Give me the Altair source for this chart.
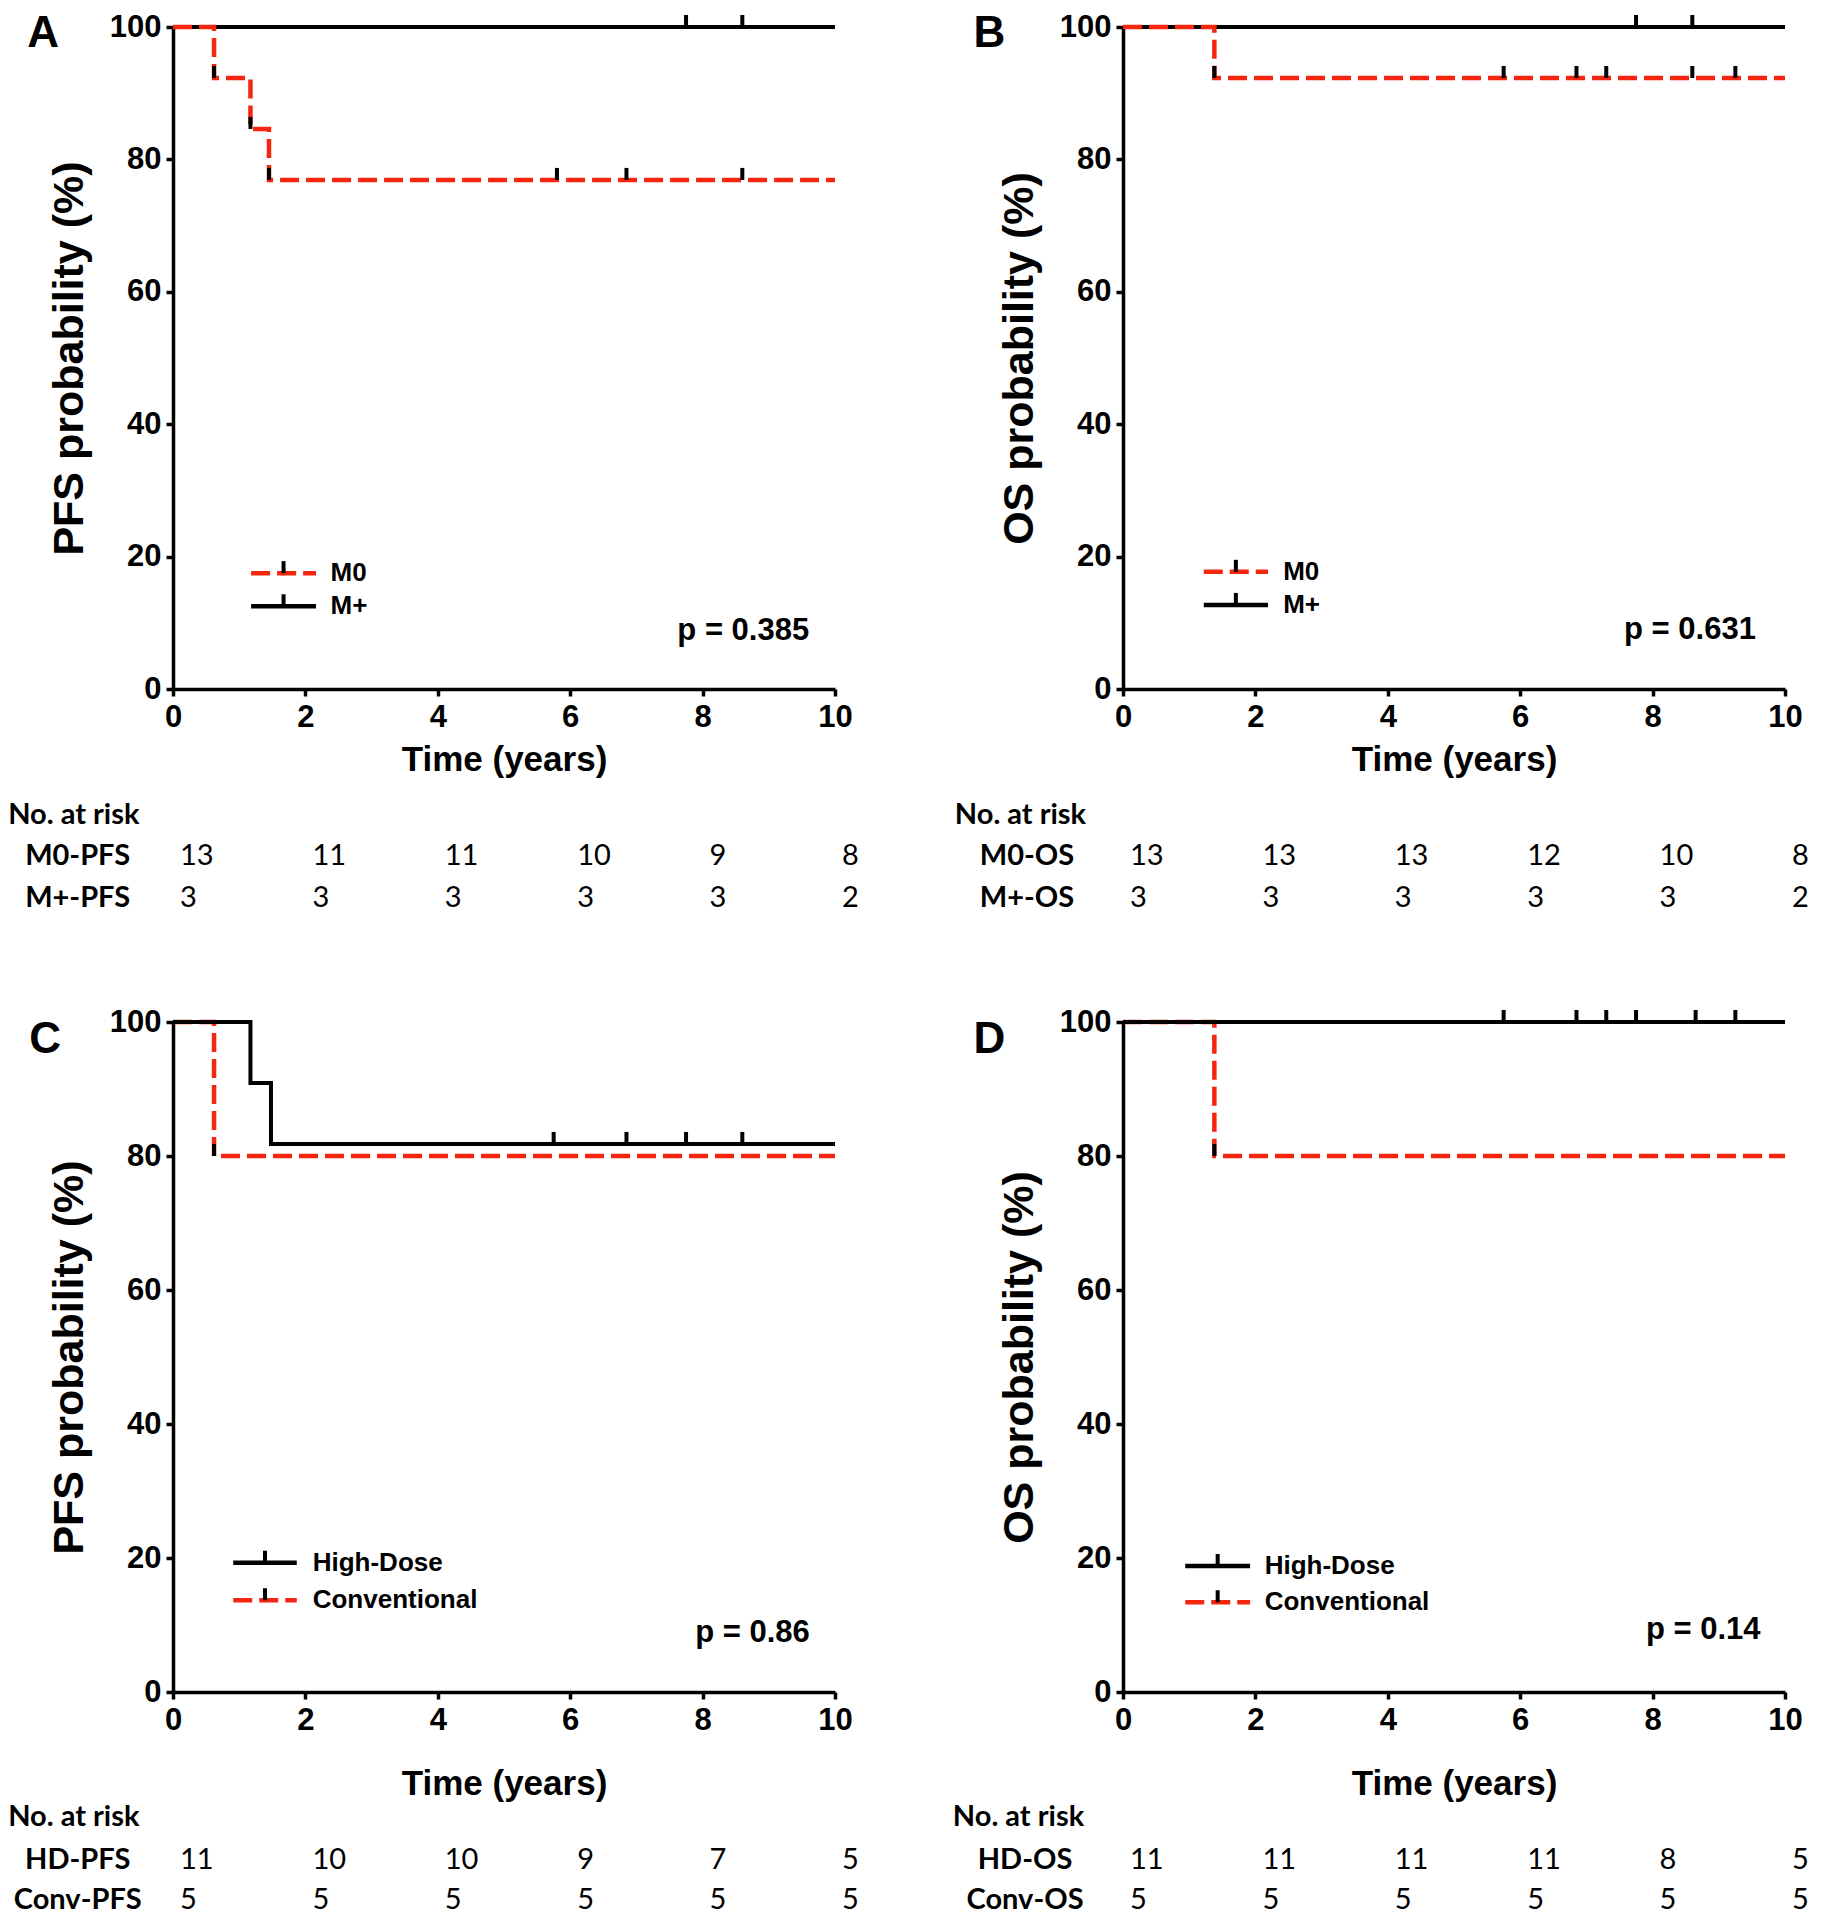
import altair as alt
import pandas as pd

RED = "#f5260f"
BLACK = "#000000"
FONT = "Liberation Sans"
TFONT = "Lato"
DASH = [19, 7]

risk_times = [0, 2, 4, 6, 8, 10]
x_ticks = [0, 2, 4, 6, 8, 10]
y_ticks = [0, 20, 40, 60, 80, 100]

# ---- Panel A : PFS by M stage ----
A_red_t = [0, 0.62, 1.17, 1.45, 10]
A_red_s = [100, 92.3, 84.6, 76.9, 76.9]
A_blk_t = [0, 10]
A_blk_s = [100, 100]
A_red_cens = [5.8, 6.85, 8.6]
A_blk_cens = [7.75, 8.6]
A_risk_labels = ["M0-PFS", "M+-PFS"]
A_risk_rows = [[13, 11, 11, 10, 9, 8], [3, 3, 3, 3, 3, 2]]

# ---- Panel B : OS by M stage ----
B_red_t = [0, 1.38, 10]
B_red_s = [100, 92.3, 92.3]
B_blk_t = [0, 10]
B_blk_s = [100, 100]
B_red_cens = [5.75, 6.85, 7.3, 8.6, 9.25]
B_blk_cens = [7.75, 8.6]
B_risk_labels = ["M0-OS", "M+-OS"]
B_risk_rows = [[13, 13, 13, 12, 10, 8], [3, 3, 3, 3, 3, 2]]

# ---- Panel C : PFS by dose ----
C_red_t = [0, 0.62, 10]
C_red_s = [100, 80, 80]
C_blk_t = [0, 1.17, 1.48, 10]
C_blk_s = [100, 90.9, 81.8, 81.8]
C_red_cens = []
C_blk_cens = [5.75, 6.85, 7.75, 8.6]
C_risk_labels = ["HD-PFS", "Conv-PFS"]
C_risk_rows = [[11, 10, 10, 9, 7, 5], [5, 5, 5, 5, 5, 5]]

# ---- Panel D : OS by dose ----
D_red_t = [0, 1.38, 10]
D_red_s = [100, 80, 80]
D_blk_t = [0, 10]
D_blk_s = [100, 100]
D_red_cens = []
D_blk_cens = [5.75, 6.85, 7.3, 7.75, 8.65, 9.25]
D_risk_labels = ["HD-OS", "Conv-OS"]
D_risk_rows = [[11, 11, 11, 11, 8, 5], [5, 5, 5, 5, 5, 5]]


def step_at(ts, ss, t):
    v = ss[0]
    for ti, si in zip(ts, ss):
        if ti <= t:
            v = si
    return v


xs = alt.Scale(domain=[0, 10], nice=False, zero=False)


def panel(cfg):
    W, H = cfg["w"], cfg["h"]
    xaxis = alt.Axis(values=x_ticks, title="Time (years)", titlePadding=cfg["tpad"],
                     labelFlush=False, format="d")
    yaxis = alt.Axis(values=y_ticks, title=cfg["ytitle"], labelFlush=False, format="d")
    ys = alt.Scale(domain=[0, 100], nice=False, zero=False)
    X = alt.X("x:Q", scale=xs, axis=xaxis)
    Y = alt.Y("y:Q", scale=ys, axis=yaxis)

    red_df = pd.DataFrame({"x": cfg["red_t"], "y": cfg["red_s"]})
    blk_df = pd.DataFrame({"x": cfg["blk_t"], "y": cfg["blk_s"]})
    red_line = alt.Chart(red_df).mark_line(interpolate="step-after", color=RED,
                                           strokeWidth=4.5, strokeDash=DASH).encode(x=X, y=Y)
    blk_line = alt.Chart(blk_df).mark_line(interpolate="step-after", color=BLACK,
                                           strokeWidth=4).encode(x=X, y=Y)

    # censor marks (and event marks on the red curve, drawn black as in the figure)
    cx, cy = [], []
    for t in cfg["blk_cens"]:
        cx.append(t); cy.append(step_at(cfg["blk_t"], cfg["blk_s"], t))
    for t in cfg["red_cens"]:
        cx.append(t); cy.append(step_at(cfg["red_t"], cfg["red_s"], t))
    for t in cfg["red_t"][1:-1]:
        cx.append(t); cy.append(step_at(cfg["red_t"], cfg["red_s"], t))
    cens_df = pd.DataFrame({"x": cx, "y": cy})
    cens = alt.Chart(cens_df).mark_rule(color=BLACK, strokeWidth=4, y2Offset=-12).encode(
        x=X, y=Y, y2=alt.Y2("y:Q"))

    # legend drawn in data space
    lg = cfg["legend"]
    leg_df = pd.DataFrame({
        "x": [lg["x1"]] * 2, "x2": [lg["x2"]] * 2,
        "y": [lg["y_red"], lg["y_blk"]],
        "xc": [(lg["x1"] + lg["x2"]) / 2] * 2,
        "xt": [lg["xt"]] * 2,
        "lab": [cfg["red_name"], cfg["blk_name"]],
        "k": ["red", "black"],
    })
    leg_red = alt.Chart(leg_df[leg_df.k == "red"]).mark_rule(
        color=RED, strokeWidth=4.5, strokeDash=DASH).encode(x=X, x2=alt.X2("x2:Q"), y=Y)
    leg_blk = alt.Chart(leg_df[leg_df.k == "black"]).mark_rule(
        color=BLACK, strokeWidth=4.5).encode(x=X, x2=alt.X2("x2:Q"), y=Y)
    leg_tick = alt.Chart(leg_df).mark_rule(color=BLACK, strokeWidth=4, y2Offset=-12).encode(
        x=alt.X("xc:Q", scale=xs, axis=xaxis), y=Y, y2=alt.Y2("y:Q"))
    leg_txt = alt.Chart(leg_df).mark_text(
        align="left", baseline="middle", font=FONT, fontWeight="bold", fontSize=26,
        color=BLACK).encode(x=alt.X("xt:Q", scale=xs, axis=xaxis), y=Y, text="lab:N")

    # p value
    p_df = pd.DataFrame({"x": [cfg["p_x"]], "y": [cfg["p_y"]], "lab": [cfg["p"]]})
    ptxt = alt.Chart(p_df).mark_text(align="right", baseline="middle", font=FONT,
                                     fontWeight="bold", fontSize=31, color=BLACK).encode(
        x=X, y=Y, text="lab:N")

    # panel letter
    l_df = pd.DataFrame({"x": [cfg["let_x"]], "y": [cfg["let_y"]], "lab": [cfg["letter"]]})
    letter = alt.Chart(l_df).mark_text(align="center", baseline="alphabetic", font=FONT,
                                       fontWeight="bold", fontSize=44, color=BLACK).encode(
        x=X, y=Y, text="lab:N")

    # number-at-risk table
    ry = cfg["risk_y"]
    hdr_df = pd.DataFrame({"x": [cfg["hdr_x"]], "y": [ry[0]], "lab": ["No. at risk"]})
    hdr = alt.Chart(hdr_df).mark_text(align="left", baseline="middle", font=TFONT,
                                      fontWeight="bold", fontSize=29, color=BLACK).encode(
        x=X, y=Y, text="lab:N")
    rl_df = pd.DataFrame({"x": [cfg["rl_x"]] * 2, "y": ry[1:], "lab": cfg["risk_labels"]})
    rlab = alt.Chart(rl_df).mark_text(align="center", baseline="middle", font=TFONT,
                                      fontWeight="bold", fontSize=29, color=BLACK).encode(
        x=X, y=Y, text="lab:N")
    nx, ny, nl = [], [], []
    for r, row in enumerate(cfg["risk_rows"]):
        for t, n in zip(risk_times, row):
            nx.append(t); ny.append(ry[1 + r]); nl.append(str(n))
    num_df = pd.DataFrame({"x": nx, "y": ny, "lab": nl})
    nums = alt.Chart(num_df).mark_text(align="left", baseline="middle", font=TFONT,
                                       fontSize=29, dx=7, color=BLACK).encode(
        x=X, y=Y, text="lab:N")

    if cfg["red_on_top"]:
        curves = [blk_line, red_line]
    else:
        curves = [red_line, blk_line]
    return alt.layer(*curves, cens, leg_red, leg_blk, leg_tick, leg_txt, ptxt, letter,
                     hdr, rlab, nums).properties(width=W, height=H)


top_risk_y = [-19.0, -25.2, -31.6]
bot_risk_y = [-18.6, -25.0, -31.0]

pA = panel(dict(w=662, h=662, tpad=10, ytitle="PFS probability (%)",
                red_t=A_red_t, red_s=A_red_s, blk_t=A_blk_t, blk_s=A_blk_s,
                red_cens=A_red_cens, blk_cens=A_blk_cens,
                red_name="M0", blk_name="M+", red_on_top=True,
                legend=dict(x1=1.18, x2=2.16, y_red=17.5, y_blk=12.5, xt=2.38),
                p="p = 0.385", p_x=9.61, p_y=8.8, letter="A", let_x=-1.96, let_y=97.05,
                risk_y=top_risk_y, hdr_x=-2.49, rl_x=-1.44,
                risk_labels=A_risk_labels, risk_rows=A_risk_rows))
pB = panel(dict(w=662, h=662, tpad=10, ytitle="OS probability (%)",
                red_t=B_red_t, red_s=B_red_s, blk_t=B_blk_t, blk_s=B_blk_s,
                red_cens=B_red_cens, blk_cens=B_blk_cens,
                red_name="M0", blk_name="M+", red_on_top=True,
                legend=dict(x1=1.22, x2=2.19, y_red=17.7, y_blk=12.7, xt=2.42),
                p="p = 0.631", p_x=9.56, p_y=8.9, letter="B", let_x=-2.02, let_y=97.05,
                risk_y=top_risk_y, hdr_x=-2.54, rl_x=-1.45,
                risk_labels=B_risk_labels, risk_rows=B_risk_rows))
pC = panel(dict(w=662, h=670, tpad=31, ytitle="PFS probability (%)",
                red_t=C_red_t, red_s=C_red_s, blk_t=C_blk_t, blk_s=C_blk_s,
                red_cens=C_red_cens, blk_cens=C_blk_cens,
                red_name="Conventional", blk_name="High-Dose", red_on_top=False,
                legend=dict(x1=0.91, x2=1.87, y_red=13.7, y_blk=19.3, xt=2.11),
                p="p = 0.86", p_x=9.62, p_y=8.8, letter="C", let_x=-1.93, let_y=95.4,
                risk_y=bot_risk_y, hdr_x=-2.49, rl_x=-1.44,
                risk_labels=C_risk_labels, risk_rows=C_risk_rows))
pD = panel(dict(w=662, h=670, tpad=31, ytitle="OS probability (%)",
                red_t=D_red_t, red_s=D_red_s, blk_t=D_blk_t, blk_s=D_blk_s,
                red_cens=D_red_cens, blk_cens=D_blk_cens,
                red_name="Conventional", blk_name="High-Dose", red_on_top=False,
                legend=dict(x1=0.94, x2=1.92, y_red=13.4, y_blk=18.8, xt=2.14),
                p="p = 0.14", p_x=9.63, p_y=9.2, letter="D", let_x=-2.02, let_y=95.4,
                risk_y=bot_risk_y, hdr_x=-2.57, rl_x=-1.48,
                risk_labels=D_risk_labels, risk_rows=D_risk_rows))

chart = alt.concat(pA, pB, pC, pD, columns=2,
                   spacing={"row": 333, "column": 288}, bounds="flush").properties(
    padding={"top": 3, "left": 0, "right": 0, "bottom": 0}
).configure_view(stroke=None).configure_axis(
    domainColor=BLACK, domainWidth=3.5, tickColor=BLACK, tickWidth=3.5, tickSize=7,
    labelFont=FONT, labelFontWeight="bold", labelFontSize=31, labelColor=BLACK,
    titleFont=FONT, titleFontWeight="bold", titleColor=BLACK, grid=False, labelPadding=5,
).configure_axisX(titleFontSize=35, labelPadding=6).configure_axisY(
    titleFontSize=43, titlePadding=18)

chart.save("out.html", embed_options={"renderer": "svg", "actions": False})
